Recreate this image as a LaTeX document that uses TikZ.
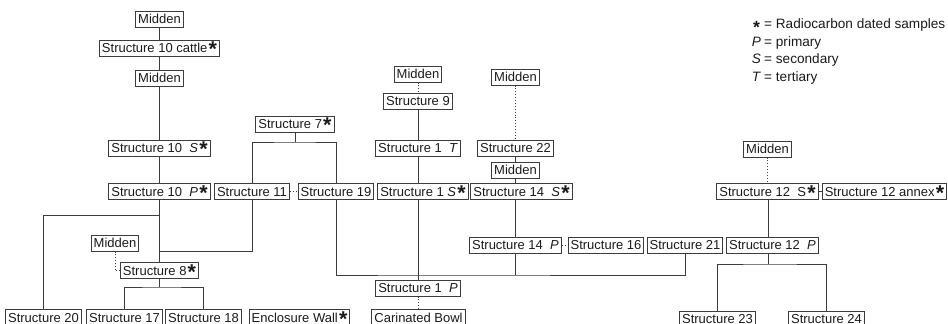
\documentclass[tikz,border=0pt]{standalone}
\usepackage{graphicx}
\usepackage{fontspec}
\setmainfont{Liberation Sans}
\usetikzlibrary{calc}
\definecolor{ln}{HTML}{3C3C3C}
\definecolor{tx}{HTML}{1A1A1A}
\newcommand{\rc}{\hspace{1.2pt}\raisebox{-4.2pt}{\scalebox{1.65}{\bfseries *}}}
\newcommand{\legstar}{\raisebox{-5pt}{\scalebox{1.3}{\bfseries *}}}
\begin{document}
\begin{tikzpicture}[x=1pt,y=-1pt,
  box/.style={draw=ln, line width=1pt, inner xsep=2.5pt, inner ysep=0pt,
    minimum height=16pt, text height=9.3pt, text depth=0pt,
    font=\fontsize{13}{14}\selectfont, text=tx},
  con/.style={draw=ln, line width=1pt},
  dot/.style={draw=ln, line width=0.9pt, dotted},
  leg/.style={font=\fontsize{13.6}{15}\selectfont, inner sep=0pt,
    text height=9.5pt, text depth=0pt, text=tx}]
\useasboundingbox (0,0) rectangle (948,324);

% column of structure 10
\node[box] (m1) at (159.5,19) {Midden};
\node[box] (s10c) at (159.5,48) {Structure 10 cattle\rc};
\node[box] (m2) at (159.5,78) {Midden};
\node[box] (s10s) at (159.5,148) {Structure 10~~\textit{S}\rc};
\node[box] (s10p) at (159.5,191.5) {Structure 10~~\textit{P}\rc};
\node[box] (s8) at (159.5,270.5) {Structure 8\rc};
\node[box] (m7) at (115,243) {Midden};

\node[box] (s11) at (252,191.5) {Structure 11};
\node[box] (s19) at (336,191.5) {Structure 19};
\node[box] (s7) at (295,124) {Structure 7\rc};

% column of structure 1
\node[box] (m3) at (418,74) {Midden};
\node[box] (s9) at (418,101) {Structure 9};
\node[box] (s1t) at (418,148) {Structure 1~~\textit{T}};
\node[box] (s1s) at (423,191.5) {Structure 1 \textit{S}\rc};
\node[box] (s1p) at (418,288) {Structure 1~~\textit{P}};

% column of structure 14
\node[box] (m4) at (515.5,77) {Midden};
\node[box] (s22) at (515.5,148) {Structure 22};
\node[box] (m5) at (515.5,170) {Midden};
\node[box] (s14s) at (521.5,191.5) {Structure 14~~\textit{S}\rc};
\node[box] (s14p) at (515.5,245) {Structure 14~~\textit{P}};
\node[box] (s16) at (606,245) {Structure 16};
\node[box] (s21) at (685,245) {Structure 21};

% column of structure 12
\node[box] (m6) at (767.5,149) {Midden};
\node[box] (s12s) at (767.5,191.5) {Structure 12~~S\rc};
\node[box] (s12a) at (884.5,191.5) {Structure 12 annex\rc};
\node[box] (s12p) at (772.5,245) {Structure 12~~\textit{P}};

% bottom row
\node[box] (s20) at (43.5,317.5) {Structure 20};
\node[box] (s17) at (124.5,317.5) {Structure 17};
\node[box] (s18) at (203.5,317.5) {Structure 18};
\node[box] (ew) at (299.5,317.5) {Enclosure Wall\rc};
\node[box] (cb) at (418.5,317.5) {Carinated Bowl};
\node[box] (s23) at (717.5,319) {Structure 23};
\node[box] (s24) at (826.5,319) {Structure 24};

% junctions
\coordinate (j10) at (159.5,215);
\coordinate (j11) at (159.5,251);
\coordinate (j8) at (159.5,287);
\coordinate (j7) at (295,142);
\coordinate (jb) at (418,275);
\coordinate (j12) at (768,264);

% connectors: structure 10
\draw[con] (m1) -- (s10c);
\draw[con] (s10c) -- (m2);
\draw[con] (m2) -- (s10s);
\draw[con] (s10s) -- (s10p);
\draw[con] (s10p) -- (s8);
\draw[con] (j10) -| (s20.north);
\draw[con] (s11.south) |- (j11);
\draw[dot] (m7.south) |- (s8.west);
\draw[con] (s8.south) -- (j8);
\draw[con] (s17.north) |- (j8) -| (s18.north);

% structure 7
\draw[con] (s7) -- (j7);
\draw[con] (s11.north) |- (j7) -| (s19.north);
\draw[dot] (s11) -- (s19);

% bus
\draw[con] (s19.south) |- (jb) -| (s21.south);
\draw[con] (s14p.south) -- (s14p.south|-jb);

% structure 1
\draw[dot] (m3) -- (s9);
\draw[con] (s9) -- (s1t);
\draw[con] (s1t.south) -- (s1t.south|-s1s.north);
\draw[con] (s1t.south|-s1s.south) -- (s1p.north);
\draw[dot] (s1p.south) -- (s1p.south|-cb.north);

% structure 14
\draw[dot] (m4) -- (s22);
\draw[con] (s22) -- (m5);
\draw[con] (m5.south) -- (m5.south|-s14s.north);
\draw[con] (m5.south|-s14s.south) -- (s14p.north);
\draw[dot] (s14p) -- (s16);

% structure 12
\draw[dot] (m6) -- (s12s);
\draw[con] (s12s) -- (s12a);
\draw[con] (j12|-s12s.south) -- (j12|-s12p.north);
\draw[con] (j12|-s12p.south) -- (j12);
\draw[con] (s23.north) |- (j12) -| (s24.north);

% legend
\node[leg] (k1) at (756.5,24) {\legstar};
\node[leg, anchor=west] (k1t) at (764,24) {= Radiocarbon dated samples};
\node[leg] (k2) at (756.5,41.5) {\textit{P}};
\node[leg, anchor=west] (k2t) at (764,41.5) {= primary};
\node[leg] (k3) at (756.5,59) {\textit{S}};
\node[leg, anchor=west] (k3t) at (764,59) {= secondary};
\node[leg] (k4) at (756.5,76.5) {\textit{T}};
\node[leg, anchor=west] (k4t) at (764,76.5) {= tertiary};
\end{tikzpicture}
\end{document}
